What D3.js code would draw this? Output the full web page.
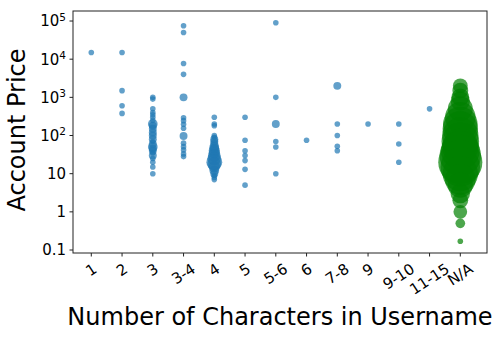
<!DOCTYPE html>
<html>
<head>
<meta charset="utf-8">
<script src="https://cdn.jsdelivr.net/npm/d3@7"></script>
<style>
  body { margin: 0; background: #fff; }
  svg { display: block; font-family: "DejaVu Sans", sans-serif; }
</style>
</head>
<body>
<div id="chart"></div>
<script>
// categories along the x axis
const categories = ['1', '2', '3', '3-4', '4', '5', '5-6', '6', '7-8', '9', '9-10', '11-15', 'N/A'];

// blue series: [category, [[price, count], ...]]
const listedPrices = [
  ['1', [[15000, 1]]],
  ['2', [[15000, 1], [1500, 1], [600, 1], [380, 1]]],
  ['3', [[1000, 1], [900, 1], [500, 1], [400, 1], [350, 1], [300, 1], [250, 1], [200, 3], [180, 2],
         [150, 2], [120, 2], [100, 2], [80, 2], [70, 1], [60, 2], [50, 3], [45, 2], [40, 2], [35, 1],
         [30, 2], [25, 1], [20, 1], [15, 1], [10, 1]]],
  ['3-4', [[75000, 1], [50000, 1], [7700, 1], [4000, 1], [1000, 2], [293, 1], [245, 1], [197, 1],
           [155, 1], [97, 2], [63, 1], [51, 1], [42, 1], [33, 1], [28, 1]]],
  ['4', [[300, 1], [200, 1], [180, 1], [100, 1], [90, 1], [80, 2], [70, 2], [60, 2], [50, 3], [45, 3],
         [40, 4], [35, 4], [30, 5], [25, 6], [20, 8], [18, 6], [15, 4], [12, 3], [10, 2], [9, 1],
         [8, 1], [7, 1]]],
  ['5', [[300, 1], [75, 1], [40, 1], [30, 1], [22, 1], [13, 1], [5, 1]]],
  ['5-6', [[90000, 1], [1000, 1], [200, 2], [70, 1], [50, 1], [10, 1]]],
  ['6', [[75, 1]]],
  ['7-8', [[2000, 2], [200, 1], [100, 1], [52, 1], [40, 1]]],
  ['9', [[200, 1]]],
  ['9-10', [[200, 1], [60, 1], [20, 1]]],
  ['11-15', [[500, 1]]]
];

// green series (N/A): [price, count]
const naPrices = [
  [2000, 7], [1500, 8], [1000, 10], [800, 12], [500, 20], [300, 30], [200, 38], [150, 40],
  [100, 42], [70, 45], [50, 42], [40, 48], [30, 55], [20, 62], [15, 50], [10, 40], [7, 30],
  [5, 20], [3, 12], [2, 8], [1, 6], [0.5, 3], [0.17, 1]
];

const yTicks = [0.1, 1, 10, 100, 1000, 10000, 100000];

const width = 498, height = 339;
const margin = { top: 11, right: 11, bottom: 86, left: 73 };
const plotW = width - margin.left - margin.right;
const plotH = height - margin.top - margin.bottom;

const svg = d3.select('#chart').append('svg')
  .attr('width', width)
  .attr('height', height);

const g = svg.append('g').attr('transform', `translate(${margin.left},${margin.top})`);

// category index -> x, with matplotlib-like margins
const x = d3.scaleLinear().domain([-0.595, categories.length - 1 + 0.868]).range([0, plotW]);
const y = d3.scaleLog().domain([0.0835, 183000]).range([plotH, 0]);
const r = d3.scaleSqrt().domain([0, 1]).range([0, 2.8]);

// flatten blue points
const bluePoints = [];
listedPrices.forEach(([cat, pts]) => {
  pts.forEach(([price, count]) => bluePoints.push({ cat, price, count }));
});
const greenPoints = naPrices.map(([price, count]) => ({ cat: 'N/A', price, count }));

g.selectAll('circle.blue')
  .data(bluePoints)
  .enter().append('circle')
  .attr('class', 'blue')
  .attr('cx', d => x(categories.indexOf(d.cat)))
  .attr('cy', d => y(d.price))
  .attr('r', d => r(d.count))
  .attr('fill', '#1f77b4')
  .attr('fill-opacity', 0.7);

g.selectAll('circle.green')
  .data(greenPoints)
  .enter().append('circle')
  .attr('class', 'green')
  .attr('cx', d => x(categories.indexOf(d.cat)))
  .attr('cy', d => y(d.price))
  .attr('r', d => r(d.count))
  .attr('fill', '#008000')
  .attr('fill-opacity', 0.7);

// frame
g.append('rect')
  .attr('x', 0).attr('y', 0)
  .attr('width', plotW).attr('height', plotH)
  .attr('fill', 'none')
  .attr('stroke', '#222')
  .attr('stroke-width', 1);

// y axis ticks + labels
const supMap = { 2: '2', 3: '3', 4: '4', 5: '5' };
yTicks.forEach(t => {
  const ty = y(t);
  g.append('line')
    .attr('x1', -3.5).attr('x2', 0)
    .attr('y1', ty).attr('y2', ty)
    .attr('stroke', '#222');
  const exp = Math.round(Math.log10(t));
  const label = g.append('text')
    .attr('x', -7)
    .attr('y', ty)
    .attr('dy', '0.36em')
    .attr('text-anchor', 'end')
    .attr('font-size', 15)
    .attr('fill', '#000');
  if (exp >= 2) {
    label.append('tspan').text('10');
    label.append('tspan')
      .attr('font-size', 10.5)
      .attr('dy', '-0.55em')
      .text(supMap[exp]);
  } else {
    label.text(t === 0.1 ? '0.1' : String(t));
  }
});

// x axis ticks + rotated labels
const angle = 33;
const rad = angle * Math.PI / 180;
categories.forEach((c, i) => {
  const tx = x(i);
  g.append('line')
    .attr('x1', tx).attr('x2', tx)
    .attr('y1', plotH).attr('y2', plotH + 3.5)
    .attr('stroke', '#222');
  const lg = g.append('g');
  const t = lg.append('text')
    .attr('text-anchor', 'middle')
    .attr('dominant-baseline', 'central')
    .attr('font-size', 15)
    .attr('fill', '#000')
    .text(c);
  const w = t.node().getComputedTextLength();
  const h = 15 * 1.16;
  const boxH = w * Math.sin(rad) + h * Math.cos(rad);
  lg.attr('transform', `translate(${tx},${plotH + 7 + boxH / 2}) rotate(${-angle})`);
});

// axis titles
svg.append('text')
  .attr('x', margin.left + plotW / 2)
  .attr('y', 325)
  .attr('text-anchor', 'middle')
  .attr('font-size', 24)
  .attr('fill', '#000')
  .text('Number of Characters in Username');

svg.append('text')
  .attr('transform', `translate(25,${margin.top + plotH / 2 - 2}) rotate(-90)`)
  .attr('text-anchor', 'middle')
  .attr('font-size', 24)
  .attr('fill', '#000')
  .text('Account Price');
</script>
</body>
</html>
